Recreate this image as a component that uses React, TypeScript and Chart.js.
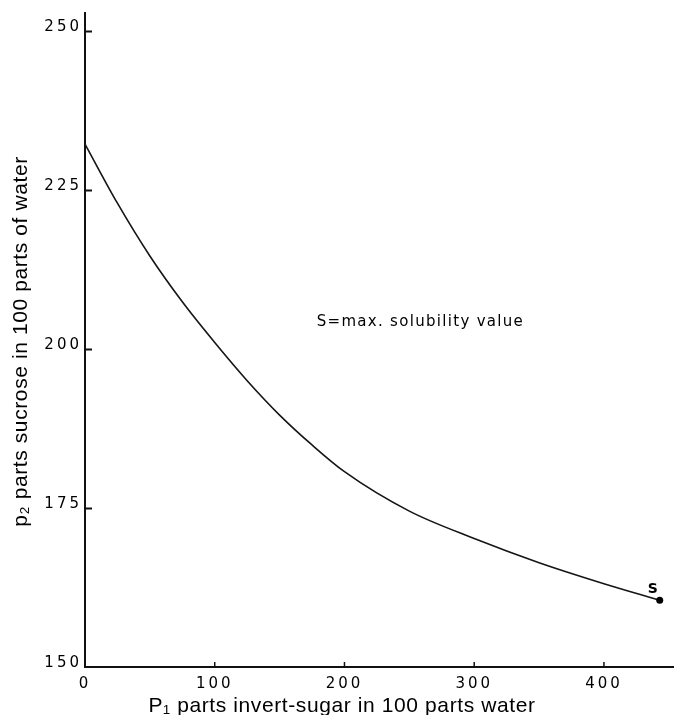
import React, { useEffect, useRef } from "react";
import { Chart, registerables } from "chart.js";

Chart.register(...registerables);

// ---- Data ----
const invertSugar = [0, 25, 50, 75, 100, 125, 150, 175, 200, 250, 300, 350, 400, 443];
const sucrose = [232.2, 222.9, 214.6, 207.4, 201.0, 195.0, 189.6, 184.9, 180.7, 174.5, 170.2, 166.4, 163.1, 160.5];
const xTicks = [0, 100, 200, 300, 400];
const yTicks = [150, 175, 200, 225, 250];
const xRange = [0, 454];
const yRange = [150, 252.8];
const xTitle = "P\u2081 parts invert-sugar in 100 parts water";
const yTitle = "p\u2082 parts sucrose in 100 parts of water";
const noteText = "S=max. solubility value";
const notePos = [178.6, 204.2];
const endLabel = "S";

const decor = {
  id: "decor",
  beforeDraw(chart: any) {
    chart.ctx.letterSpacing = "3px";
  },
  afterDraw(chart: any) {
    const ctx = chart.ctx;
    const xs = chart.scales.x;
    const ys = chart.scales.y;
    ctx.save();
    ctx.letterSpacing = "0px";
    ctx.strokeStyle = "#111";
    ctx.lineWidth = 2;
    yTicks.forEach((v) => {
      if (v === yRange[0]) return;
      const py = Math.round(ys.getPixelForValue(v)) + 0.5;
      ctx.beginPath();
      ctx.moveTo(xs.left, py);
      ctx.lineTo(xs.left + 7, py);
      ctx.stroke();
    });
    ctx.lineWidth = 1.5;
    xTicks.forEach((v) => {
      if (v === xRange[0]) return;
      const px = xs.getPixelForValue(v);
      ctx.beginPath();
      ctx.moveTo(px, ys.bottom);
      ctx.lineTo(px, ys.bottom - 5);
      ctx.stroke();
    });

    // axis titles
    ctx.fillStyle = "#000";
    ctx.font = '21px "Liberation Sans", Arial, sans-serif';
    ctx.letterSpacing = "0.6px";
    ctx.textAlign = "center";
    ctx.textBaseline = "alphabetic";
    ctx.fillText(xTitle, 342, 712);
    ctx.save();
    ctx.translate(27, 341.5);
    ctx.rotate(-Math.PI / 2);
    ctx.fillText(yTitle, 0, 0);
    ctx.restore();

    // annotation
    ctx.font = '15px "DejaVu Sans", sans-serif';
    ctx.letterSpacing = "1.3px";
    ctx.textAlign = "left";
    ctx.textBaseline = "middle";
    ctx.fillText(noteText, xs.getPixelForValue(notePos[0]), ys.getPixelForValue(notePos[1]));

    // S label at end point
    const last = invertSugar.length - 1;
    ctx.font = 'bold 14px "DejaVu Sans", sans-serif';
    ctx.letterSpacing = "0px";
    ctx.textAlign = "center";
    ctx.fillText(
      endLabel,
      xs.getPixelForValue(invertSugar[last]) - 7,
      ys.getPixelForValue(sucrose[last]) - 11
    );
    ctx.restore();
  },
};

export default function App() {
  const ref = useRef<HTMLCanvasElement | null>(null);

  useEffect(() => {
    if (!ref.current) return;
    const last = invertSugar.length - 1;
    const chart = new Chart(ref.current, {
      type: "line",
      data: {
        datasets: [
          {
            data: invertSugar.map((x, i) => ({ x, y: sucrose[i] })),
            borderColor: "#151515",
            borderWidth: 1.6,
            cubicInterpolationMode: "monotone",
            pointRadius: invertSugar.map((_, i) => (i === last ? 3.5 : 0)),
            pointBackgroundColor: "#000",
            pointBorderColor: "#000",
            pointBorderWidth: 0,
            fill: false,
            clip: false,
          },
        ],
      },
      options: {
        responsive: false,
        animation: false,
        devicePixelRatio: 1,
        layout: { autoPadding: false, padding: { top: 13, left: 0, right: 0, bottom: 0 } },
        plugins: {
          legend: { display: false },
          tooltip: { enabled: false },
          title: { display: false },
        },
        scales: {
          x: {
            type: "linear",
            min: xRange[0],
            max: xRange[1],
            afterBuildTicks: (s: any) => {
              s.ticks = xTicks.map((v) => ({ value: v }));
            },
            afterFit: (s: any) => {
              s.height = 48;
            },
            grid: { display: false, drawTicks: false },
            border: { display: true, color: "#111", width: 2 },
            ticks: {
              color: "#000",
              font: { family: "DejaVu Sans", size: 15 },
              padding: 8,
              maxRotation: 0,
              autoSkip: false,
            },
            title: { display: false },
          },
          y: {
            type: "linear",
            min: yRange[0],
            max: yRange[1],
            afterBuildTicks: (s: any) => {
              s.ticks = yTicks.map((v) => ({ value: v }));
            },
            afterFit: (s: any) => {
              s.width = 85;
            },
            grid: { display: false, drawTicks: false },
            border: { display: true, color: "#111", width: 2 },
            ticks: {
              color: "#000",
              font: { family: "DejaVu Sans", size: 15 },
              padding: 3,
              labelOffset: -4,
              autoSkip: false,
            },
            title: { display: false },
          },
        },
      },
      plugins: [decor],
    } as any);
    return () => chart.destroy();
  }, []);

  return (
    <div style={{ position: "fixed", left: 0, top: 0, width: 674, height: 715, background: "#fff" }}>
      <canvas ref={ref} width={674} height={715} style={{ display: "block" }} />
    </div>
  );
}
